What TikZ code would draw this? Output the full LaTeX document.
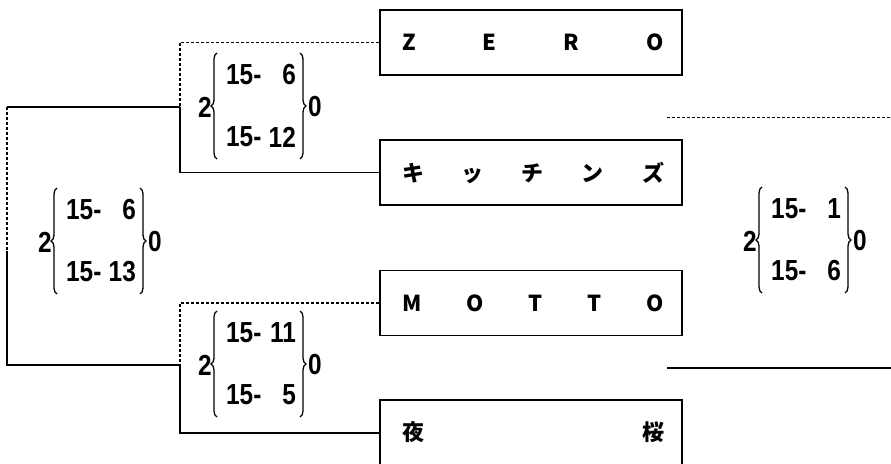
\documentclass[tikz,border=0pt]{standalone}
\usepackage{graphicx}
\usepackage{fontspec}
\setmainfont{Liberation Sans}
\newfontfamily\jpfont{Noto Sans CJK JP}
\usetikzlibrary{decorations.pathreplacing}

\newcommand\nm[1]{\scalebox{0.84}[1]{#1}}
\tikzset{
  teambox/.style={draw, line width=1.6pt, minimum width=302pt, minimum height=65pt, inner sep=0pt},
  boxtext/.style={font=\jpfont\bfseries\fontsize{22}{22}\selectfont, inner sep=0pt},
  solidline/.style={line width=1.5pt},
  dashline/.style={line width=1.1pt, dash pattern=on 3pt off 2pt},
  num/.style={font=\fontsize{29}{29}\selectfont\bfseries, inner sep=0pt},
  curly/.style={decorate, decoration={brace, amplitude=6pt, aspect=0.5}, line width=1.3pt},
}
\newcommand\scoreset[5]{%
  \node[num] (#1-two) at (#2,#3) {\nm{2}};
  \node[num,anchor=west] (#1-a1) at ({#2+21},{#3-32}) {\nm{15-}};
  \node[num,anchor=east] (#1-a2) at ({#2+91},{#3-32}) {\nm{#4}};
  \node[num,anchor=west] (#1-b1) at ({#2+21},{#3+30}) {\nm{15-}};
  \node[num,anchor=east] (#1-b2) at ({#2+91},{#3+30}) {\nm{#5}};
  \draw[curly] ({#2+12},{#3+52}) -- ({#2+12},{#3-54});
  \draw[curly] ({#2+95},{#3-54}) -- ({#2+95},{#3+52});
  \node[num] (#1-zero) at ({#2+110},{#3}) {\nm{0}};
}

\begin{document}
\begin{tikzpicture}[x=1pt,y=-1pt]
  \clip (0,0) rectangle (891,463);
  \useasboundingbox (0,0) rectangle (891,463);

  % team boxes
  \node[teambox] (zero) at (531,42.5) {};
  \node[teambox] (kitchens) at (531,172.5) {};
  \node[teambox] (motto) at (531,303) {};
  \node[teambox, minimum height=66pt] (yozakura) at (531,433) {};

  \node[boxtext] (zero-t) at (533,42.5) {\makebox[262pt]{Z\hfill E\hfill R\hfill O}};
  \node[boxtext] (kitchens-t) at (533,172.5) {\makebox[262pt]{キ\hfill ッ\hfill チ\hfill ン\hfill ズ}};
  \node[boxtext] (motto-t) at (533,303) {\makebox[262pt]{M\hfill O\hfill T\hfill T\hfill O}};
  \node[boxtext] (yozakura-t) at (533,432) {\makebox[262pt]{夜\hfill 桜}};

  % junction points
  \coordinate (j1) at (180,107);
  \coordinate (j2) at (180,365);
  \coordinate (l1) at (7,107);
  \coordinate (lm) at (7,251);
  \coordinate (l2) at (7,365);

  \draw[dashline] (zero.west) -| (j1);
  \draw[solidline] (kitchens.west) -| (j1);
  \draw[dashline] (motto.west) -| (j2);
  \draw[solidline] (yozakura.west) -| (j2);
  \draw[solidline] (j1) -- (l1);
  \draw[dashline] (l1) -- (lm);
  \draw[solidline] (lm) -- (l2) -- (j2);

  % right side lines
  \coordinate (r1a) at (667,117);
  \coordinate (r1b) at (891,117);
  \coordinate (r2a) at (667,368);
  \coordinate (r2b) at (891,368);
  \draw[dashline, line width=0.9pt] (r1a) -- (r1b);
  \draw[solidline] (r2a) -- (r2b);

  % scores
  \scoreset{s1}{205}{107}{6}{12}
  \scoreset{s2}{45}{242}{6}{13}
  \scoreset{s3}{205}{365}{11}{5}
  \scoreset{s4}{750}{241}{1}{6}
\end{tikzpicture}
\end{document}
